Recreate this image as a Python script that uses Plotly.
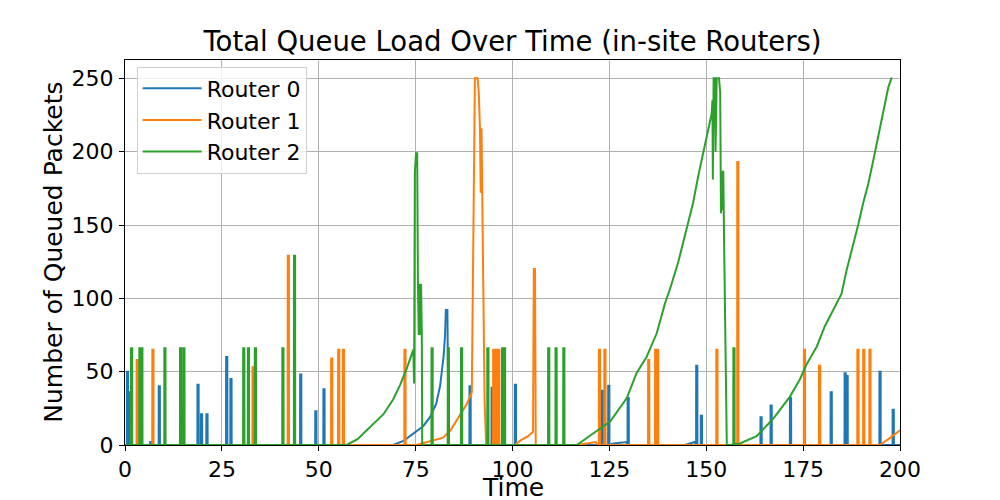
import numpy as np
import plotly.graph_objects as go

# ---------------- data ----------------
series_names = ["Router 0", "Router 1", "Router 2"]
series_colors = ["#1f77b4", "#ff7f0e", "#2ca02c"]

# Router 0: short spikes (time, height)
r0_spike_t = [0.5, 0.9, 6.5, 8.7, 18.7, 19.6, 21.0, 26.1, 27.2, 45.2, 49.1, 51.2,
              88.9, 94.6, 100.6, 123.1, 124.7, 129.7, 147.4, 148.6, 164.0, 166.6,
              171.6, 182.1, 185.7, 186.2, 194.7, 198.1]
r0_spike_h = [50, 36, 2, 40, 41, 21, 21, 60, 45, 48, 23, 38,
              40, 39, 41, 37, 41, 32, 54, 20, 19, 27,
              32, 36, 49, 47, 50, 24]
# Router 0: build-up ramps (time, value)
r0_ramp_t = [69.2, 72.0, 74.4, 77.0, 78.7, 80.3, 81.3, 82.2, 82.6, 82.8, 83.2, 83.5,
             124.9, 126.0, 129.5, 129.6,
             144.5, 147.0, 147.2]
r0_ramp_v = [0, 3, 8, 13, 19, 28, 40, 60, 75, 92, 92, 0,
             0, 1, 2, 0,
             0, 2, 0]

# Router 1
r1_spike_t = [3.0, 7.05, 32.9, 42.0, 53.2, 55.0, 56.2, 72.1, 95.0, 95.6, 96.3,
              122.3, 123.7, 135.0, 136.8, 137.3, 152.6, 158.0, 175.2, 179.1,
              189.0, 190.5, 192.1]
r1_spike_h = [58, 65, 53, 129, 59, 65, 65, 65, 65, 65, 65,
              65, 65, 58, 65, 65, 65, 193, 65, 54,
              65, 65, 65]
r1_ramp_t = [75.2, 78.0, 82.1, 84.0, 85.6, 88.2, 89.5, 89.9, 90.3, 91.0, 91.3, 91.6,
             91.8, 92.0, 92.2, 92.5, 92.8, 93.2,
             100.6, 102.0, 104.0, 105.3, 105.5, 105.8, 106.0,
             116.5, 121.5, 122.0,
             194.8, 197.0, 200.0]
r1_ramp_v = [0, 2, 5, 10, 17, 28, 36, 153, 250, 250, 240, 216,
             172, 216, 172, 100, 30, 0,
             0, 3, 6, 9, 120, 120, 0,
             0, 2, 0,
             0, 4, 10]

# Router 2
r2_spike_t = [1.55, 3.7, 4.2, 10.15, 14.2, 15.05, 30.5, 31.7, 33.5, 40.6, 43.6,
              79.1, 83.3, 86.7, 93.5, 97.3, 97.8, 109.2, 111.1, 113.1, 157.0]
r2_spike_h = [66, 66, 66, 66, 66, 66, 66, 66, 66, 66, 129,
              66, 66, 66, 66, 66, 66, 66, 66, 66, 66]
r2_ramp_t = [57.2, 60.0, 62.4, 64.5, 66.7, 69.2, 71.0, 72.7, 74.4, 74.6, 74.8, 75.1,
             75.4, 75.6, 75.8, 76.0, 76.2, 76.4, 76.6, 76.7,
             116.6, 120.9, 125.2, 129.5, 132.0, 134.6, 137.2, 139.4, 140.6, 142.8,
             144.9, 146.6, 147.9, 149.2, 150.5, 151.4, 151.6, 151.7, 151.9, 152.2,
             152.4, 152.7, 153.3, 153.6, 153.8, 154.0, 154.2, 154.4, 154.6, 154.8,
             155.0, 155.3,
             156.1, 158.7, 163.0, 167.3, 171.6, 174.2, 175.9, 178.5, 180.6, 182.8,
             184.9, 186.2, 187.5, 189.2, 190.5, 191.8, 193.1, 194.8, 196.1, 197.0,
             197.8, 198.0]
r2_ramp_v = [0, 4, 10, 15, 21, 31, 41, 52, 65, 42, 186, 199,
             199, 110, 75, 110, 75, 110, 75, 0,
             0, 8, 16, 32, 49, 60, 76, 97, 106, 125,
             147, 165, 183, 199, 217, 226, 235, 181, 250, 250,
             200, 250, 250, 240, 158, 187, 160, 187, 140, 100,
             50, 0,
             0, 1, 6, 18, 33, 45, 55, 67, 81, 92,
             103, 119, 132, 150, 165, 178, 194, 215, 233, 244,
             250, 250]

end_times = [200.0, 200.0, 198.0]

x_ticks = [0, 25, 50, 75, 100, 125, 150, 175, 200]
y_ticks = [0, 50, 100, 150, 200, 250]

title_text = "Total Queue Load Over Time (in-site Routers)"
x_label = "Time"
y_label = "Number of Queued Packets"


def build(spike_t, spike_h, ramp_t, ramp_v, t_end, w=0.3):
    rt = np.array(ramp_t, dtype=float)
    rv = np.array(ramp_v, dtype=float)
    right_val = rv[-1] if rt[-1] >= t_end - 1e-9 else 0.0

    def base(t):
        return float(np.interp(t, rt, rv, left=0.0, right=right_val))

    pts = [(0.0, 0.0)]
    pts += list(zip(rt.tolist(), rv.tolist()))
    for t, h in zip(spike_t, spike_h):
        pts.append((t - 0.02, base(t - 0.02)))
        pts.append((t, float(h)))
        pts.append((t + w, float(h)))
        pts.append((t + w + 0.02, base(t + w + 0.02)))
    pts.append((t_end, base(t_end)))
    pts = sorted(pts, key=lambda p: p[0])
    xs = [p[0] for p in pts if p[0] <= t_end]
    ys = [p[1] for p in pts if p[0] <= t_end]
    return xs, ys


all_data = [
    (r0_spike_t, r0_spike_h, r0_ramp_t, r0_ramp_v),
    (r1_spike_t, r1_spike_h, r1_ramp_t, r1_ramp_v),
    (r2_spike_t, r2_spike_h, r2_ramp_t, r2_ramp_v),
]

fig = go.Figure()
for (st, sh, rt, rv), name, color, te in zip(all_data, series_names, series_colors, end_times):
    xs, ys = build(st, sh, rt, rv, te)
    fig.add_trace(go.Scatter(x=xs, y=ys, mode="lines", name=name,
                             line=dict(color=color, width=2)))

# The page body adds an 8 px margin, so the figure is 992x492 and the plot
# area (775x385) is offset so it lands at 125..900 x 60..445 in the window.
FONT = "DejaVu Sans"
W, H = 992, 492
ML, MT, PW, PH = 117, 52, 775, 385
fig.update_layout(
    width=W, height=H,
    margin=dict(l=ML, r=W - ML - PW, t=MT, b=H - MT - PH, autoexpand=False),
    paper_bgcolor="white", plot_bgcolor="white",
    font=dict(family=FONT, color="black", size=22),
    title=dict(text=title_text,
               x=(ML + PW / 2) / W, xanchor="center", xref="container",
               y=1 - 33.5 / H, yanchor="middle", yref="container",
               font=dict(size=27.5, family=FONT, color="black")),
    legend=dict(x=0.015, y=0.983, xanchor="left", yanchor="top",
                bgcolor="rgba(255,255,255,0.8)", bordercolor="#d0d0d0", borderwidth=1,
                font=dict(size=22, family=FONT), tracegroupgap=0, itemwidth=59),
    showlegend=True,
    annotations=[
        dict(text=x_label, xref="paper", yref="paper", x=0.5, y=-42.5 / PH,
             xanchor="center", yanchor="middle", showarrow=False,
             font=dict(size=25, family=FONT, color="black")),
        dict(text=y_label, xref="paper", yref="paper", x=-71.8 / PW, y=0.5,
             xanchor="center", yanchor="middle", showarrow=False, textangle=-90,
             font=dict(size=25, family=FONT, color="black")),
    ],
)
common = dict(showgrid=True, gridcolor="#b0b0b0", gridwidth=1,
              showline=True, linecolor="black", linewidth=1, mirror=True,
              ticks="outside", ticklen=5, tickwidth=1, tickcolor="black",
              tickfont=dict(size=22), zeroline=False, automargin=False)
fig.update_xaxes(range=[0, 200], tickvals=x_ticks, ticktext=[str(v) for v in x_ticks],
                 ticklabelstandoff=0, **common)
fig.update_yaxes(range=[0, 262.5], tickvals=y_ticks, ticktext=[str(v) for v in y_ticks],
                 ticklabelstandoff=1, **common)

fig.write_html("out.html")
